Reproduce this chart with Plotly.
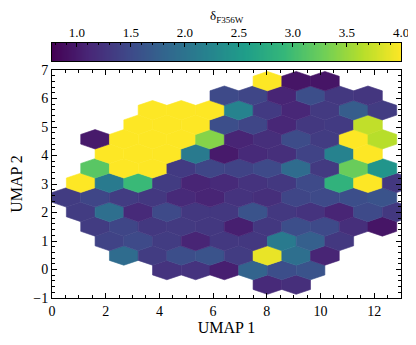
import numpy as np
import plotly.graph_objects as go
from plotly.colors import sample_colorscale

# mean delta_F356W per hexagonal bin, bottom row first
# (even rows are shifted half a bin to the right, like matplotlib hexbin)
N = None
delta_rows = [
    [N, N, N, N, N, N, N, 1.15, 1.2, N, N, N, N],
    [N, N, N, N, 1.25, 1.25, 1.05, 1.8, 1.55, 1.6, N, N, N],
    [N, N, 1.9, 1.35, 1.55, 1.6, 1.35, 3.9, 1.95, 1.1, N, N, N],
    [N, N, 1.42, 1.5, 1.35, 1.1, 1.3, 1.3, 2.1, 1.75, 1.3, N, N],
    [N, 1.35, 1.45, 1.3, 1.32, 1.3, 1.05, 1.3, 1.55, 1.5, 1.2, 0.95, N],
    [N, 1.35, 1.95, 1.15, 1.5, 1.3, 1.3, 1.6, 1.3, 1.25, 1.1, 1.5, 1.3],
    [1.35, 1.45, 1.35, 1.3, 1.15, 1.1, 1.25, 1.2, 1.45, 1.5, 1.55, 1.6, N],
    [N, 4.5, 2.1, 2.95, 1.35, 1.1, 1.15, 1.25, 1.3, 1.5, 2.85, 4.2, 1.3],
    [N, 3.15, 4.5, 4.5, 1.33, 1.45, 1.42, 1.5, 1.9, 1.32, 3.25, 2.45, N],
    [N, N, 4.5, 4.5, 4.5, 2.1, 1.0, 1.15, 1.2, 1.42, 2.2, 4.2, N],
    [N, 1.0, 4.5, 4.5, 4.5, 3.4, 1.1, 1.2, 1.52, 1.35, 4.2, 3.65, N],
    [N, N, N, 4.5, 4.5, 4.5, 1.55, 1.45, 1.12, 1.3, 1.33, 3.7, N],
    [N, N, N, 4.5, 4.5, 4.5, 2.22, 1.33, 1.12, 1.32, 1.72, 1.35, N],
    [N, N, N, N, N, N, 1.5, 1.45, 1.1, 1.55, 1.3, 1.28, N],
    [N, N, N, N, N, N, N, 4.2, 0.95, 0.95, N, N, N],
]
cbar_ticks = [1.0, 1.5, 2.0, 2.5, 3.0, 3.5, 4.0]

# hexbin grid
x_min, bin_w = 0.0, 1.07
y_min, bin_h = -0.53, 1.02
v_min, v_max = 0.77, 4.0

font_family = "Liberation Serif"

hex_dx = np.array([0.5, 0.5, 0.0, -0.5, -0.5, 0.0, 0.5]) * bin_w
hex_dy = np.array([-1 / 6, 1 / 6, 1 / 3, 1 / 6, -1 / 6, -1 / 3, -1 / 6]) * bin_h

fig = go.Figure()

for r, row in enumerate(delta_rows):
    yc = y_min + r * bin_h / 2
    shift = bin_w / 2 if r % 2 == 0 else 0.0
    for i, v in enumerate(row):
        if v is None:
            continue
        xc = x_min + i * bin_w + shift
        t = min(max((v - v_min) / (v_max - v_min), 0), 1)
        c = sample_colorscale("Viridis", [t])[0]
        fig.add_trace(go.Scatter(
            x=xc + hex_dx, y=yc + hex_dy,
            mode="lines", fill="toself", fillcolor=c,
            line=dict(color=c, width=0.6),
            showlegend=False, hoverinfo="skip",
        ))

# colour bar drawn as a heatmap strip on its own axes
bar_vals = np.linspace(v_min, v_max, 300)
fig.add_trace(go.Heatmap(
    x=bar_vals, y=[0], z=[bar_vals],
    colorscale="Viridis", zmin=v_min, zmax=v_max,
    showscale=False, xaxis="x2", yaxis="y2", hoverinfo="skip",
))

axis_common = dict(
    showgrid=False, zeroline=False, linecolor="black", linewidth=1,
    ticks="inside", ticklen=5, tickcolor="black", mirror="ticks",
    tickfont=dict(size=14, color="black"), automargin=False,
)

# the page body adds an 8px offset, so the figure is 8px smaller
fig.update_layout(
    width=408, height=337,
    margin=dict(l=44, r=15, t=35, b=46.5),
    plot_bgcolor="white", paper_bgcolor="white",
    font=dict(family=font_family, size=14, color="black"),
    xaxis=dict(
        range=[0, 13], dtick=2, tick0=0,
        minor=dict(dtick=0.5, ticks="inside", ticklen=3, tickcolor="black"),
        title=dict(text="UMAP 1", standoff=2, font=dict(size=16)),
        **axis_common,
    ),
    yaxis=dict(
        range=[-1, 7], dtick=1, tick0=0, domain=[0, 0.894],
        minor=dict(dtick=0.2, ticks="inside", ticklen=3, tickcolor="black"),
        title=dict(text="UMAP 2", standoff=8, font=dict(size=16)),
        **axis_common,
    ),
    xaxis2=dict(
        anchor="y2", side="top", range=[v_min, v_max],
        tickvals=cbar_ticks, ticktext=[f"{v:.1f}" for v in cbar_ticks],
        minor=dict(dtick=0.1, tick0=0, ticks="inside", ticklen=2, tickcolor="black"),
        showgrid=False, zeroline=False, linecolor="black", linewidth=1, mirror=True,
        ticks="inside", ticklen=4, tickcolor="black", automargin=False,
        tickfont=dict(size=13, color="black"),
    ),
    yaxis2=dict(
        anchor="x2", domain=[0.9295, 1.0], range=[-0.5, 0.5],
        showticklabels=False, ticks="", showgrid=False, zeroline=False,
        linecolor="black", linewidth=1, mirror=True, automargin=False,
    ),
    annotations=[dict(
        text="δ<sub>F356W</sub>", x=0.5, y=1, xref="paper", yref="paper",
        xanchor="center", yanchor="middle", yshift=27, showarrow=False,
        font=dict(size=13),
    )],
)

fig.write_html("out.html")
